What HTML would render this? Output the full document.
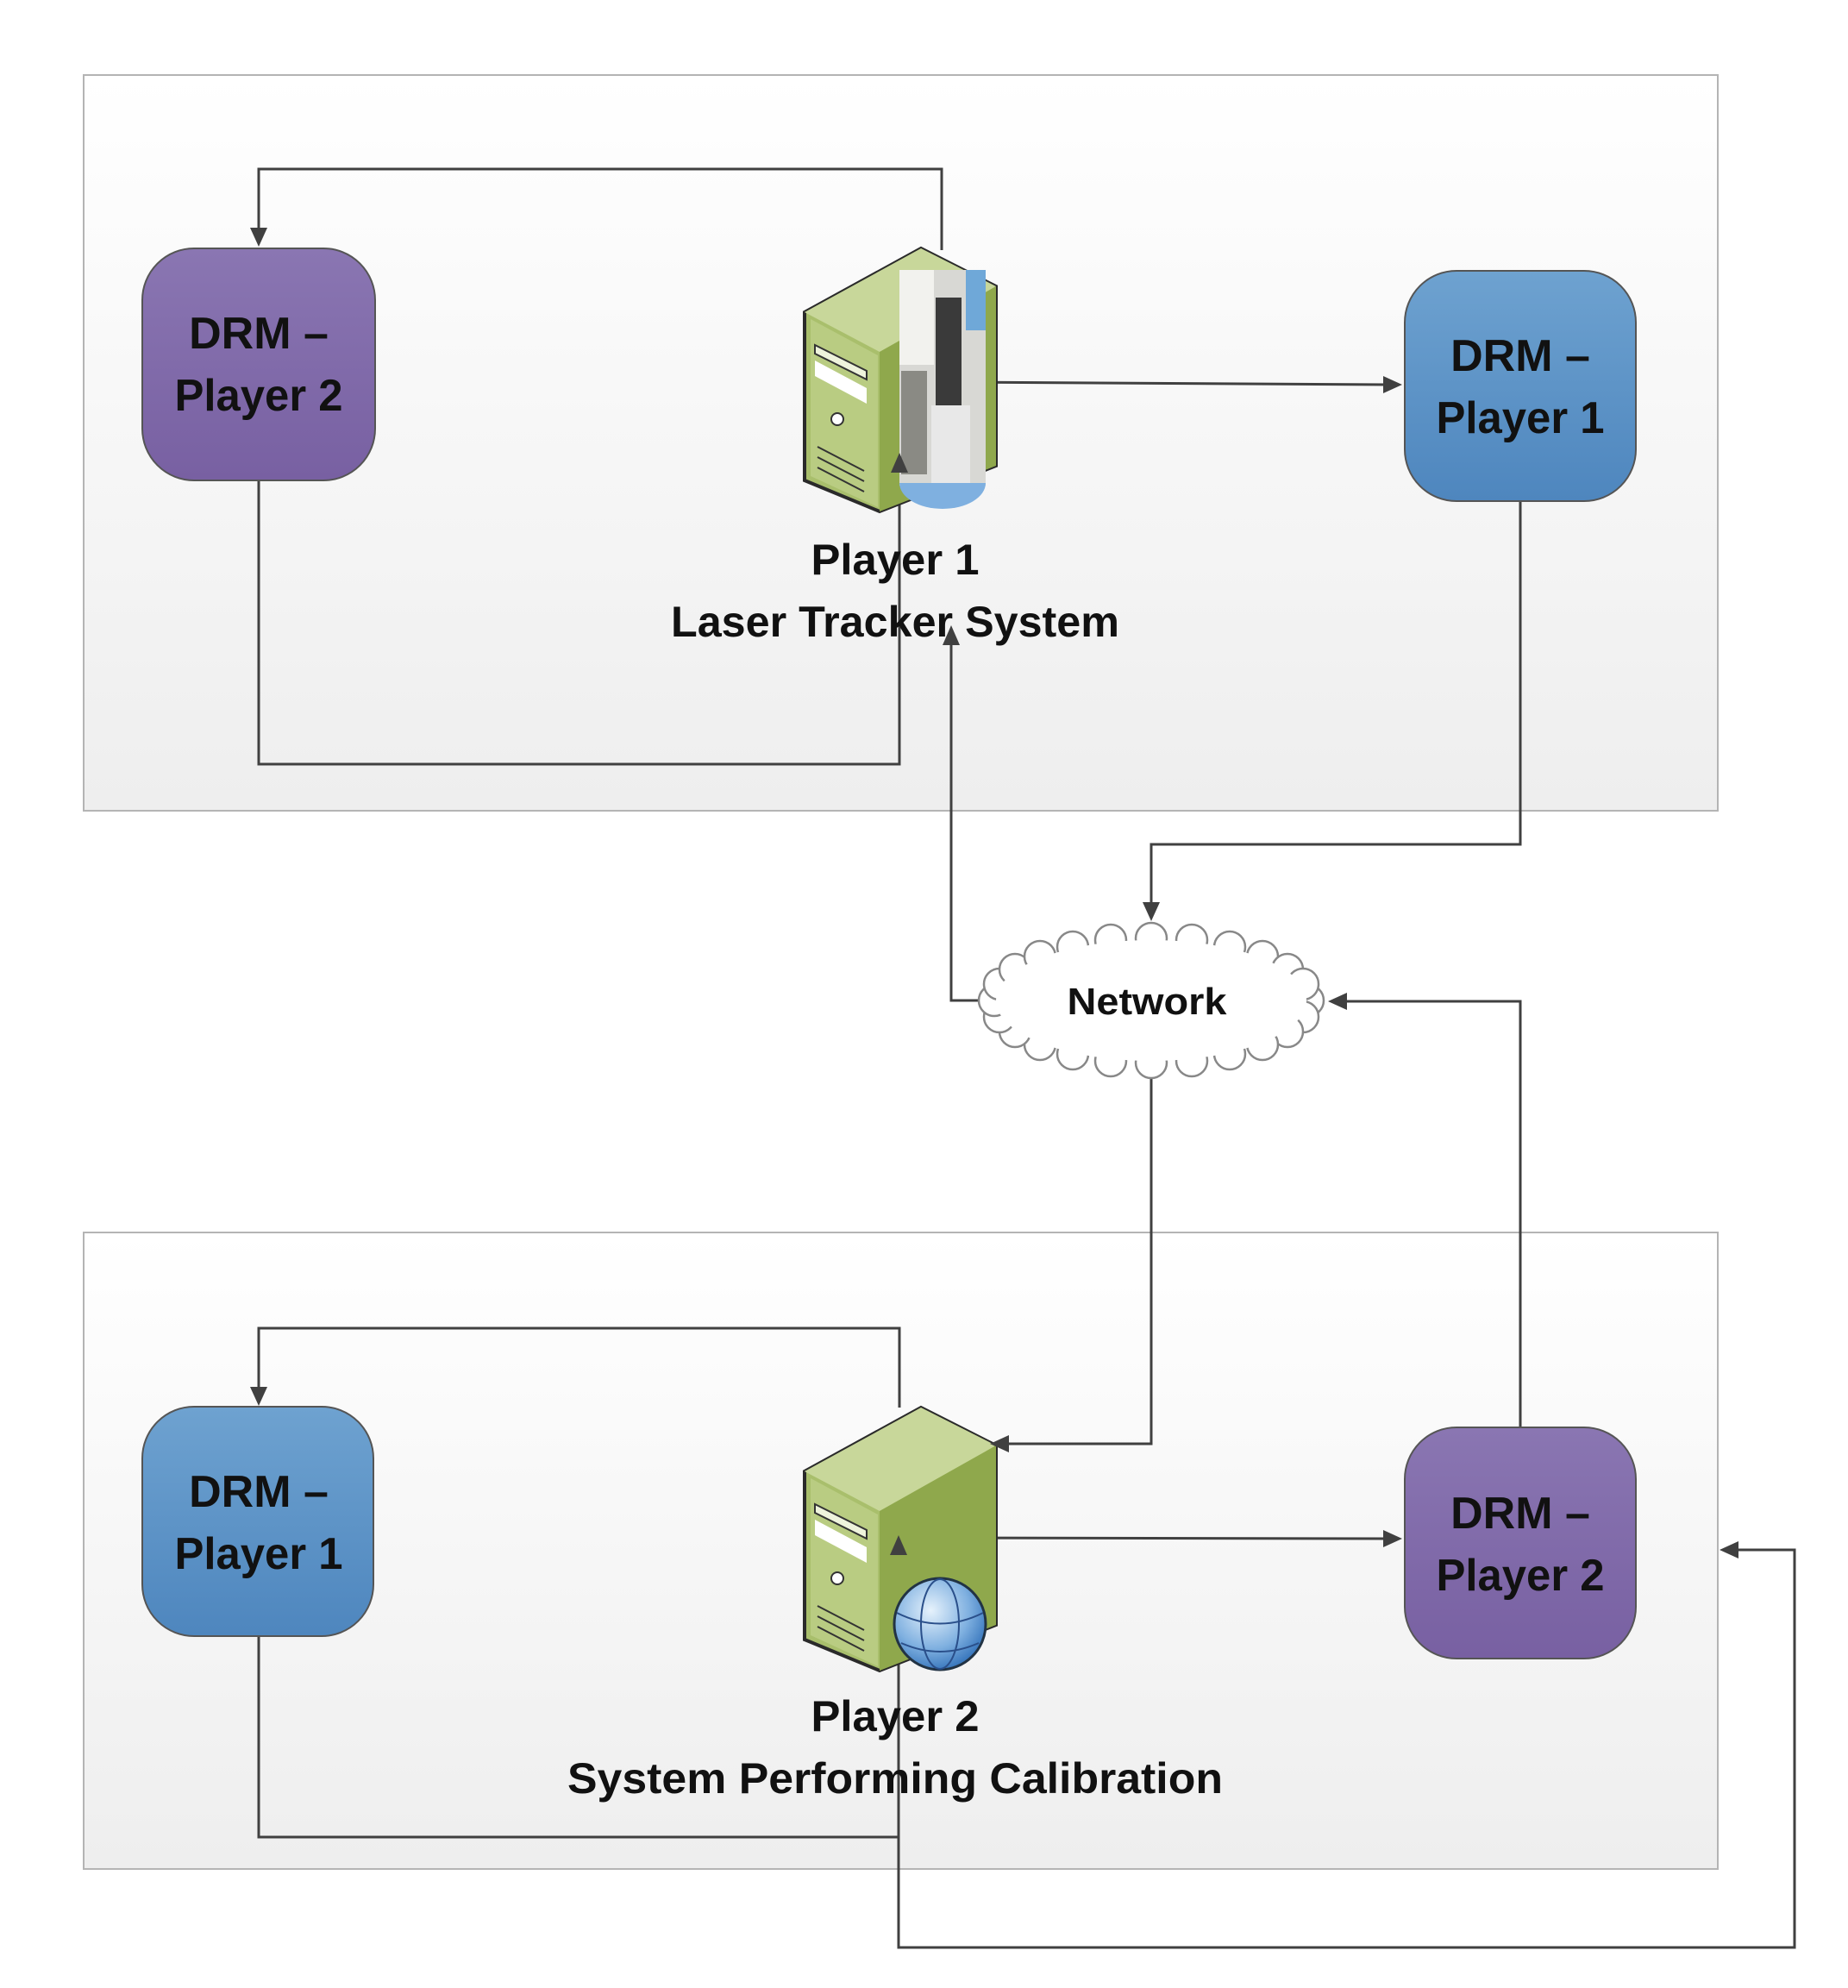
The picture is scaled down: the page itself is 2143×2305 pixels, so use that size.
<!DOCTYPE html>
<html><head><meta charset="utf-8"><style>
html,body{margin:0;padding:0;background:#fff}
svg{display:block}
text{font-family:"Liberation Sans",sans-serif;font-weight:bold;fill:#111}
</style></head><body>
<svg width="2143" height="2305" viewBox="0 0 2143 2305" xmlns="http://www.w3.org/2000/svg">
<defs>
<linearGradient id="fr" x1="0" y1="0" x2="0" y2="1"><stop offset="0" stop-color="#ffffff"/><stop offset="1" stop-color="#eeeeee"/></linearGradient>
<linearGradient id="pu" x1="0" y1="0" x2="0" y2="1"><stop offset="0" stop-color="#8a76b2"/><stop offset="1" stop-color="#7860a2"/></linearGradient>
<linearGradient id="bl" x1="0" y1="0" x2="0" y2="1"><stop offset="0" stop-color="#6ea2d0"/><stop offset="1" stop-color="#4e86be"/></linearGradient>
<radialGradient id="gl" cx="0.4" cy="0.35" r="0.7"><stop offset="0" stop-color="#e6f2fc"/><stop offset="0.6" stop-color="#7fb0e0"/><stop offset="1" stop-color="#2f6fb8"/></radialGradient>
</defs>

<rect x="97" y="87" width="1895" height="853" fill="url(#fr)" stroke="#b4b4b4" stroke-width="2"/>
<rect x="97" y="1429" width="1895" height="738" fill="url(#fr)" stroke="#b4b4b4" stroke-width="2"/>

<g fill="none" stroke="#404040" stroke-width="3">
<polyline points="1092,290 1092,196 300,196 300,268"/>
<polyline points="1100,443 1610,446"/>
<polyline points="300,557 300,886 1043,886 1043,545"/>
<polyline points="1763,580 1763,979 1335,979 1335,1050"/>
<polyline points="1137,1160 1103,1160 1103,745"/>
<polyline points="1335,1248 1335,1674 1165,1674"/>
<polyline points="1763,1655 1763,1161 1560,1161"/>
<polyline points="1043,1632 1043,1540 300,1540 300,1612"/>
<polyline points="1043,1783 1610,1784"/>
<polyline points="300,1897 300,2130 1043,2130"/>
<polyline points="2010,1797 2081,1797 2081,2258 1042,2258 1042,1800"/>
</g>

<g stroke="#555" stroke-width="2">
<rect x="165" y="288" width="270" height="269" rx="60" fill="url(#pu)"/>
<rect x="1629" y="314" width="268" height="267" rx="60" fill="url(#bl)"/>
<rect x="165" y="1631" width="268" height="266" rx="60" fill="url(#bl)"/>
<rect x="1629" y="1655" width="268" height="268" rx="60" fill="url(#pu)"/>
</g>
<g font-size="52" text-anchor="middle">
<text x="300" y="404">DRM –</text><text x="300" y="476" textLength="195" lengthAdjust="spacingAndGlyphs">Player 2</text>
<text x="1763" y="430">DRM –</text><text x="1763" y="502" textLength="195" lengthAdjust="spacingAndGlyphs">Player 1</text>
<text x="300" y="1747">DRM –</text><text x="300" y="1819" textLength="195" lengthAdjust="spacingAndGlyphs">Player 1</text>
<text x="1763" y="1772">DRM –</text><text x="1763" y="1844" textLength="195" lengthAdjust="spacingAndGlyphs">Player 2</text>
</g>

<g id="srv">
<polygon points="933,362 1068,288 1155,332 1155,540 1020,593 933,557" fill="#a9bf6c" stroke="#2a2a2a" stroke-width="4"/>
<polygon points="933,362 1068,288 1155,332 1020,408" fill="#c8d79a"/>
<polygon points="1020,408 1155,332 1155,540 1020,593" fill="#8fa84c"/>
<polygon points="940,370 1018,412 1018,588 940,552" fill="#b9cc82"/>
<polygon points="945,400 1005,430 1005,440 945,410" fill="#eef3dc" stroke="#333" stroke-width="2"/>
<polygon points="945,418 1005,450 1005,468 945,436" fill="#ffffff"/>
<circle cx="971" cy="486" r="7" fill="#fff" stroke="#333" stroke-width="2"/>
<g stroke="#333" stroke-width="2"><line x1="948" y1="518" x2="1002" y2="546"/><line x1="948" y1="530" x2="1002" y2="558"/><line x1="948" y1="542" x2="1002" y2="570"/></g>
</g>
<use href="#srv" transform="translate(0,1344)"/>

<rect x="1043" y="313" width="100" height="250" fill="#d8d8d4"/>
<rect x="1043" y="313" width="40" height="110" fill="#f2f2ee"/>
<rect x="1085" y="345" width="30" height="200" fill="#3a3a3a"/>
<rect x="1080" y="470" width="45" height="90" fill="#e8e8e8"/>
<rect x="1045" y="430" width="30" height="120" fill="#8a8a84"/>
<rect x="1120" y="313" width="23" height="70" fill="#6fa8d8"/>
<path d="M1043,560 A50,30 0 0 0 1143,560 Z" fill="#7fb0e0"/>

<circle cx="1090" cy="1883" r="53" fill="url(#gl)" stroke="#234" stroke-width="3"/>
<g fill="none" stroke="#2a4f8a" stroke-width="2"><ellipse cx="1090" cy="1883" rx="22" ry="52"/><path d="M1040,1870 Q1090,1895 1140,1870"/><path d="M1045,1905 Q1090,1925 1135,1905"/></g>

<g fill="#404040">
<polygon points="300,286 290,264 310,264"/>
<polygon points="1626,446 1604,436 1604,456"/>
<polygon points="1043,525 1033,548 1053,548"/>
<polygon points="1335,1068 1325,1046 1345,1046"/>
<polygon points="1103,725 1093,748 1113,748"/>
<polygon points="1148,1674 1170,1664 1170,1684"/>
<polygon points="1540,1161 1562,1151 1562,1171"/>
<polygon points="300,1630 290,1608 310,1608"/>
<polygon points="1626,1784 1604,1774 1604,1794"/>
<polygon points="1994,1797 2016,1787 2016,1807"/>
<polygon points="1042,1780 1032,1803 1052,1803"/>
</g>

<g fill="#fff" stroke="#888" stroke-width="2.5" transform="translate(1335,1160)">
<circle cx="182" cy="0" r="18"/><circle cx="176" cy="19" r="18"/><circle cx="158" cy="36" r="18"/><circle cx="129" cy="51" r="18"/><circle cx="91" cy="62" r="18"/><circle cx="47" cy="70" r="18"/><circle cx="0" cy="72" r="18"/>
<circle cx="-47" cy="70" r="18"/><circle cx="-91" cy="62" r="18"/><circle cx="-129" cy="51" r="18"/><circle cx="-158" cy="36" r="18"/><circle cx="-176" cy="19" r="18"/><circle cx="-182" cy="0" r="18"/>
<circle cx="-176" cy="-19" r="18"/><circle cx="-158" cy="-36" r="18"/><circle cx="-129" cy="-51" r="18"/><circle cx="-91" cy="-62" r="18"/><circle cx="-47" cy="-70" r="18"/><circle cx="0" cy="-72" r="18"/>
<circle cx="47" cy="-70" r="18"/><circle cx="91" cy="-62" r="18"/><circle cx="129" cy="-51" r="18"/><circle cx="158" cy="-36" r="18"/><circle cx="176" cy="-19" r="18"/>
<ellipse cx="0" cy="0" rx="180" ry="70" stroke="none"/>
</g>
<text x="1330" y="1176" font-size="44" text-anchor="middle" textLength="185" lengthAdjust="spacingAndGlyphs">Network</text>

<g font-size="50" text-anchor="middle">
<text x="1038" y="666" textLength="195" lengthAdjust="spacingAndGlyphs">Player 1</text>
<text x="1038" y="738" textLength="520" lengthAdjust="spacingAndGlyphs">Laser Tracker System</text>
<text x="1038" y="2007" textLength="195" lengthAdjust="spacingAndGlyphs">Player 2</text>
<text x="1038" y="2079" textLength="760" lengthAdjust="spacingAndGlyphs">System Performing Calibration</text>
</g>
</svg>
</body></html>
